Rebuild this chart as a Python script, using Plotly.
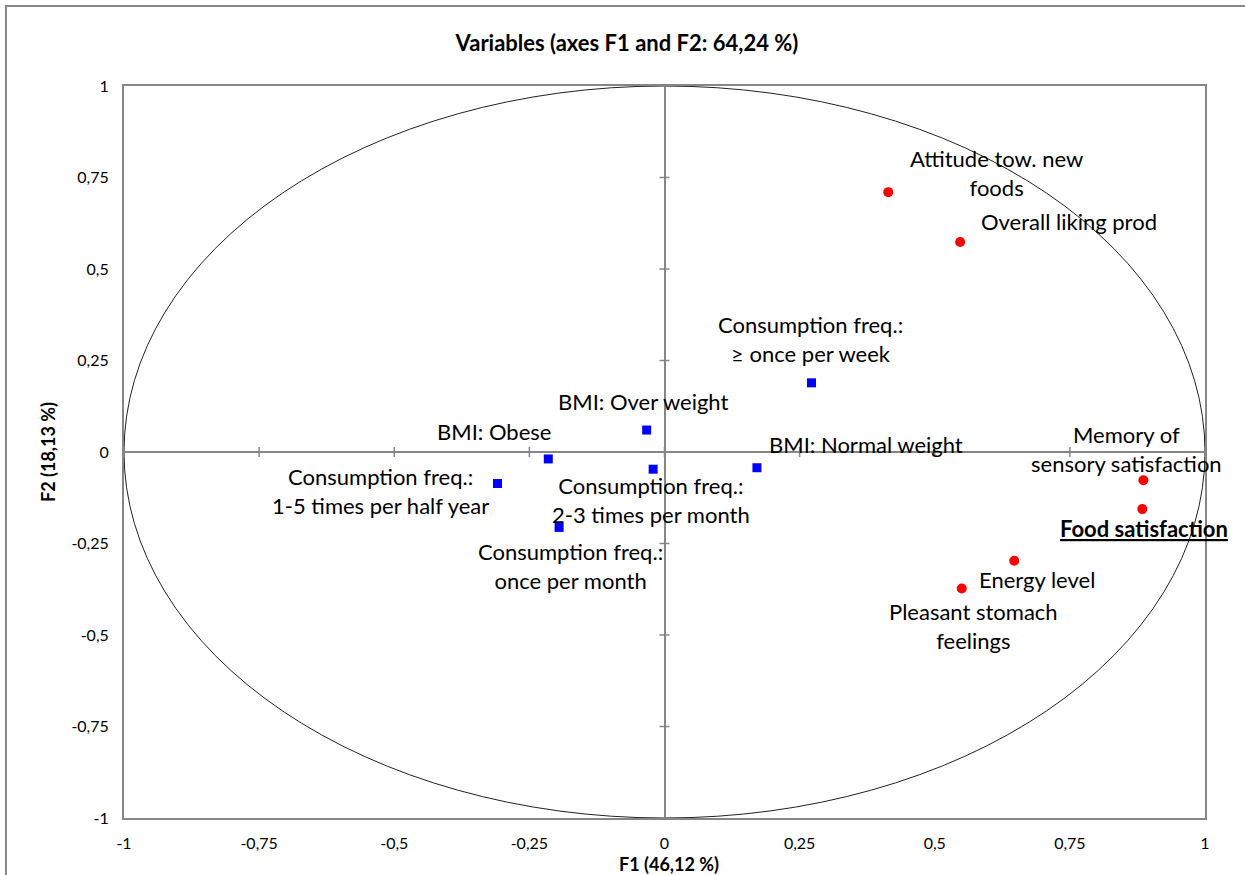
import plotly.graph_objects as go

# Active variables (correlation with F1 / F2)
active_names = [
    "Attitude tow. new<br>foods",
    "Overall liking prod",
    "Memory of<br>sensory satisfaction",
    "<b><u>Food satisfaction</u></b>",
    "Energy level",
    "Pleasant stomach<br>feelings",
]
active_f1 = [0.414, 0.547, 0.886, 0.884, 0.647, 0.550]
active_f2 = [0.710, 0.574, -0.077, -0.156, -0.297, -0.373]

# Supplementary variables
supp_names = [
    "Consumption freq.:<br>≥ once per week",
    "BMI: Normal weight",
    "BMI: Over weight",
    "Consumption freq.:<br>2-3 times per month",
    "BMI: Obese",
    "Consumption freq.:<br>1-5 times per half year",
    "Consumption freq.:<br>once per month",
]
supp_f1 = [0.272, 0.171, -0.033, -0.021, -0.215, -0.309, -0.195]
supp_f2 = [0.189, -0.043, 0.060, -0.047, -0.019, -0.086, -0.206]

# Label offsets from each point, in pixels (right, up)
active_shift = [(108, 19), (109, 20), (-17, 31), (2, -19), (23, -19), (12, -37)]
supp_shift = [(-1, 44), (109, 23), (-4, 29), (-2, -31), (-54, 27), (-117, -8), (11, -39)]

tick_vals = [-1, -0.75, -0.5, -0.25, 0, 0.25, 0.5, 0.75, 1]
tick_text = ["-1", "-0,75", "-0,5", "-0,25", "0", "0,25", "0,5", "0,75", "1"]

FONT = "Lato"
GRAY = "#868686"

fig = go.Figure()
fig.add_trace(go.Scatter(
    x=active_f1, y=active_f2, mode="markers",
    marker=dict(symbol="circle", size=10, color="#FF0000"),
    hoverinfo="skip", showlegend=False,
))
fig.add_trace(go.Scatter(
    x=supp_f1, y=supp_f2, mode="markers",
    marker=dict(symbol="square", size=9, color="#0000FF"),
    hoverinfo="skip", showlegend=False,
))

annotations = []
for names, xs, ys, shifts in [(active_names, active_f1, active_f2, active_shift),
                              (supp_names, supp_f1, supp_f2, supp_shift)]:
    for n, x, y, (dx, dy) in zip(names, xs, ys, shifts):
        annotations.append(dict(
            x=x, y=y, xref="x", yref="y", text=n, showarrow=False,
            xshift=dx, yshift=dy, xanchor="center", yanchor="middle",
            font=dict(family=FONT, size=22, color="#000000"), align="center",
        ))

# Axis titles
annotations.append(dict(x=(669 - 124) / 1081, y=-0.0628, xref="paper", yref="paper",
                        text="<b>F1 (46,12 %)</b>", showarrow=False,
                        xanchor="center", yanchor="middle",
                        font=dict(family=FONT, size=18, color="#000000")))
annotations.append(dict(x=-0.0703, y=0.5, xref="paper", yref="paper",
                        text="<b>F2 (18,13 %)</b>", showarrow=False, textangle=-90,
                        xanchor="center", yanchor="middle",
                        font=dict(family=FONT, size=18, color="#000000")))

shapes = [
    # correlation circle
    dict(type="circle", xref="x", yref="y", x0=-1, y0=-1, x1=1, y1=1,
         line=dict(color="#222222", width=1), layer="below"),
    # outer chart border
    dict(type="rect", xref="paper", yref="paper", x0=-0.1092, y0=-0.2, x1=1.2, y1=1.1093,
         line=dict(color=GRAY, width=2), fillcolor="rgba(0,0,0,0)"),
]
# cross tick marks on the zero lines
for t in tick_vals:
    shapes.append(dict(type="line", xref="x", yref="y", ysizemode="pixel", yanchor=0,
                       x0=t, x1=t, y0=-5, y1=5, line=dict(color=GRAY, width=1.5)))
    shapes.append(dict(type="line", xref="x", yref="y", xsizemode="pixel", xanchor=0,
                       y0=t, y1=t, x0=-5, x1=5, line=dict(color=GRAY, width=1.5)))

axis_common = dict(
    range=[-1, 1], tickvals=tick_vals, ticktext=tick_text,
    showgrid=False, zeroline=True, zerolinecolor=GRAY, zerolinewidth=2,
    showline=True, mirror=True, linecolor=GRAY, linewidth=2,
    ticks="outside", ticklen=10, tickcolor="rgba(0,0,0,0)",
    tickfont=dict(family=FONT, size=16, color="#000000"),
    fixedrange=True,
)

fig.update_layout(
    width=1245, height=875,
    margin=dict(l=124, r=40, t=86, b=57),
    paper_bgcolor="white", plot_bgcolor="white",
    title=dict(text="<b>Variables (axes F1 and F2: 64,24 %)</b>",
               x=(627 - 124) / 1081, y=1 - 43 / 875, xref="paper", yref="container",
               xanchor="center", yanchor="middle",
               font=dict(family=FONT, size=22, color="#000000")),
    xaxis=axis_common,
    yaxis=axis_common,
    annotations=annotations,
    shapes=shapes,
)

fig.write_html("out.html")
